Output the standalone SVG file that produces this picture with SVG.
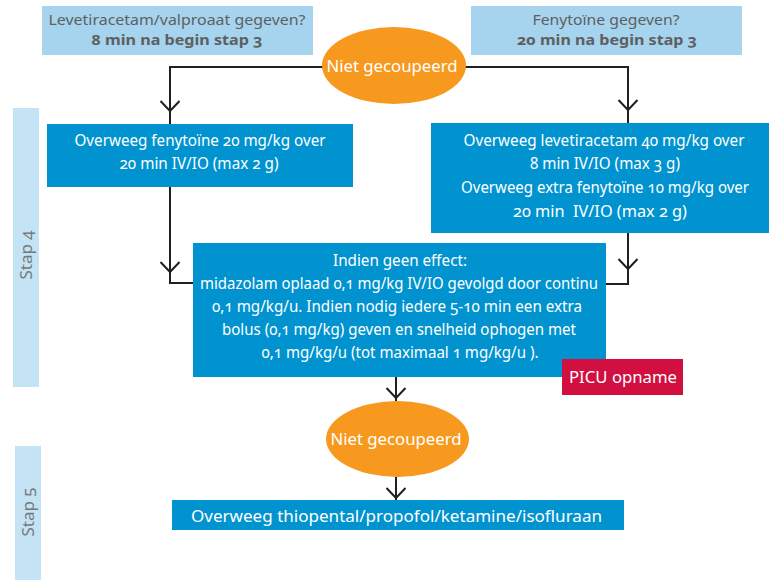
<svg xmlns="http://www.w3.org/2000/svg" xmlns:xlink="http://www.w3.org/1999/xlink" width="769" height="580" viewBox="0 0 769 580">
  <style>
    text { font-family: "Noto Sans", "Open Sans", "Liberation Sans", sans-serif; font-variant-numeric: oldstyle-nums; }
    .q { fill: #a6d3ee; }
    .step { fill: #c4e3f5; }
    .box { fill: #0093cf; }
    .oval { fill: #f7991f; }
    .picu { fill: #d10f41; }
    .wt { fill: #ffffff; font-size: 16px; text-anchor: middle; }
    .gt { fill: #5e5f61; font-size: 15px; text-anchor: middle; }
    .gb { fill: #5e5f61; font-size: 15px; font-weight: bold; text-anchor: middle; }
    .st { fill: #77787b; font-size: 17px; text-anchor: middle; }
    .ln { fill: none; stroke: #231f20; stroke-width: 2; }
  </style>
  <defs>
    <!-- open V head pointing down, tip at origin -->
    <path id="vee" d="M-9.5,-10 L0,0 L9.5,-10" fill="none" stroke="#231f20" stroke-width="2"/>
  </defs>

  <!-- step bands -->
  <g id="stap4">
    <rect class="step" x="13" y="108" width="26" height="279"/>
    <text class="st" transform="translate(32,255) rotate(-90)">Stap 4</text>
  </g>
  <g id="stap5">
    <rect class="step" x="15" y="446" width="26" height="134"/>
    <text class="st" transform="translate(34,512) rotate(-90)">Stap 5</text>
  </g>

  <!-- connectors -->
  <g id="connectors">
    <path class="ln" d="M170,124 V67 H628 V123"/>
    <path class="ln" d="M170,187 V283 H193"/>
    <path class="ln" d="M628,233 V284 H606"/>
    <path class="ln" d="M396,377 V401"/>
    <path class="ln" d="M396,477 V500"/>
    <use xlink:href="#vee" x="170" y="111"/>
    <use xlink:href="#vee" x="628" y="110"/>
    <use xlink:href="#vee" x="170" y="272"/>
    <use xlink:href="#vee" x="628" y="269"/>
    <use xlink:href="#vee" x="396" y="398"/>
    <use xlink:href="#vee" x="396" y="498"/>
  </g>

  <g id="q-levetiracetam">
    <rect class="q" x="42" y="6" width="271" height="49"/>
    <text class="gt" x="177" y="25" textLength="257" lengthAdjust="spacingAndGlyphs">Levetiracetam/valproaat gegeven?</text>
    <text class="gb" x="177" y="45" textLength="171" lengthAdjust="spacingAndGlyphs">8 min na begin stap 3</text>
  </g>

  <g id="q-fenytoine">
    <rect class="q" x="471" y="6" width="271" height="49"/>
    <text class="gt" x="606" y="25" textLength="147" lengthAdjust="spacingAndGlyphs">Fenytoïne gegeven?</text>
    <text class="gb" x="607" y="45" textLength="180" lengthAdjust="spacingAndGlyphs">20 min na begin stap 3</text>
  </g>

  <g id="niet-gecoupeerd-1">
    <ellipse class="oval" cx="394" cy="65.5" rx="72" ry="38.5"/>
    <text class="wt" x="392" y="72" font-size="18" textLength="131" lengthAdjust="spacingAndGlyphs">Niet gecoupeerd</text>
  </g>

  <g id="fenytoine-dose">
    <rect class="box" x="47" y="124" width="306" height="63"/>
    <text class="wt" x="200" y="146" textLength="251" lengthAdjust="spacingAndGlyphs">Overweeg fenytoïne 20 mg/kg over</text>
    <text class="wt" x="199" y="169" textLength="159" lengthAdjust="spacingAndGlyphs">20 min IV/IO (max 2 g)</text>
  </g>

  <g id="levetiracetam-dose">
    <rect class="box" x="431" y="123" width="338" height="110"/>
    <text class="wt" x="604" y="146" textLength="281" lengthAdjust="spacingAndGlyphs">Overweeg levetiracetam 40 mg/kg over</text>
    <text class="wt" x="605" y="169" textLength="150" lengthAdjust="spacingAndGlyphs">8 min IV/IO (max 3 g)</text>
    <text class="wt" x="605" y="193" textLength="288" lengthAdjust="spacingAndGlyphs">Overweeg extra fenytoïne 10 mg/kg over</text>
    <text class="wt" x="600" y="217" textLength="174" lengthAdjust="spacingAndGlyphs" xml:space="preserve">20 min  IV/IO (max 2 g)</text>
  </g>

  <g id="midazolam">
    <rect class="box" x="193" y="243" width="413" height="134"/>
    <text class="wt" x="400" y="266" textLength="134" lengthAdjust="spacingAndGlyphs">Indien geen effect:</text>
    <text class="wt" x="399" y="289" textLength="398" lengthAdjust="spacingAndGlyphs">midazolam oplaad 0,1 mg/kg IV/IO gevolgd door continu</text>
    <text class="wt" x="397" y="312" textLength="370" lengthAdjust="spacingAndGlyphs">0,1 mg/kg/u. Indien nodig iedere 5-10 min een extra</text>
    <text class="wt" x="399" y="335" textLength="354" lengthAdjust="spacingAndGlyphs">bolus (0,1 mg/kg) geven en snelheid ophogen met</text>
    <text class="wt" x="400" y="358" textLength="277" lengthAdjust="spacingAndGlyphs">0,1 mg/kg/u (tot maximaal 1 mg/kg/u ).</text>
  </g>

  <g id="picu">
    <rect class="picu" x="562" y="359" width="121" height="36"/>
    <text class="wt" x="623" y="383" font-size="18" textLength="108" lengthAdjust="spacingAndGlyphs">PICU opname</text>
  </g>

  <g id="niet-gecoupeerd-2">
    <ellipse class="oval" cx="397.5" cy="439" rx="71.5" ry="38"/>
    <text class="wt" x="396" y="445" font-size="18" textLength="131" lengthAdjust="spacingAndGlyphs">Niet gecoupeerd</text>
  </g>

  <g id="stap5-options">
    <rect class="box" x="172" y="500" width="452" height="30"/>
    <text class="wt" x="396.5" y="522" font-size="18" textLength="411" lengthAdjust="spacingAndGlyphs">Overweeg thiopental/propofol/ketamine/isofluraan</text>
  </g>
</svg>
